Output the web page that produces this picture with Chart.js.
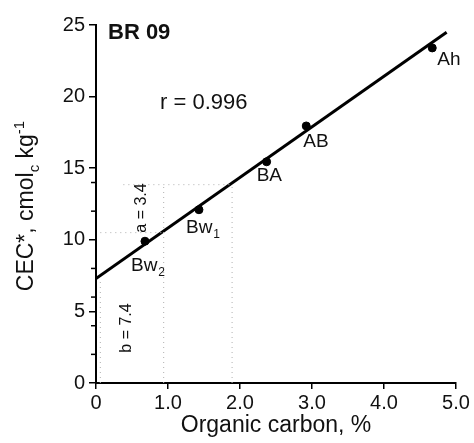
<!DOCTYPE html>
<html>
<head>
<meta charset="utf-8">
<script src="https://cdn.jsdelivr.net/npm/chart.js@4"></script>
<style>
html, body { margin: 0; padding: 0; background: #fff; }
#chart { display: block; }
</style>
</head>
<body>
<canvas id="chart" width="474" height="443"></canvas>
<script>
// horizons of profile BR 09
const horizons = ['Bw2', 'Bw1', 'BA', 'AB', 'Ah'];
const organicCarbon = [0.68, 1.43, 2.37, 2.92, 4.67];
const cecValues = [9.9, 12.1, 15.45, 17.95, 23.4];

// regression line as drawn
const fitLineX = [0, 4.87];
const fitLineY = [7.3, 24.5];

// dotted helper lines (slope / intercept construction)
const guideX = [[0.06, 0.06], [0.94, 0.94], [1.89, 1.89], [0.38, 1.89], [0.06, 0.94]];
const guideY = [[0, 7.3], [0, 13.85], [0, 13.85], [13.85, 13.85], [10.5, 10.5]];

const xTicks = [0, 1, 2, 3, 4, 5];
const yTicks = [0, 5, 10, 15, 20, 25];
const yMinorTicks = [2, 4, 6, 8, 12, 14];

const FONT = "'Liberation Sans', Arial, Helvetica, sans-serif";
Chart.defaults.font.family = FONT;
Chart.defaults.color = '#111';

// label placement relative to each point: [dx to left edge, dy to middle]
const labelOffsets = {
    Bw2: [-14, 25],
    Bw1: [-13, 18],
    BA: [-10, 14],
    AB: [-3, 15.5],
    Ah: [5, 12]
};

function drawSubLabel(ctx, x, y, text, size) {
    // "Bw2" -> "Bw" + subscript "2"
    const m = text.match(/^(Bw)(\d)$/);
    ctx.font = size + 'px ' + FONT;
    if (!m) {
        ctx.fillText(text, x, y);
        return;
    }
    ctx.fillText(m[1], x, y);
    const w = ctx.measureText(m[1]).width;
    ctx.font = Math.round(size * 0.62) + 'px ' + FONT;
    ctx.fillText(m[2], x + w + 1, y + size * 0.35);
}

const extrasPlugin = {
    id: 'extras',
    afterDraw(chart) {
        const ctx = chart.ctx;
        const xs = chart.scales.x;
        const ys = chart.scales.y;
        const area = chart.chartArea;
        ctx.save();
        ctx.fillStyle = '#111';
        ctx.strokeStyle = '#000';

        // minor ticks on y axis
        ctx.lineWidth = 1.5;
        yMinorTicks.forEach(v => {
            const py = ys.getPixelForValue(v);
            ctx.beginPath();
            ctx.moveTo(area.left - 5, py);
            ctx.lineTo(area.left, py);
            ctx.stroke();
        });

        // point labels
        ctx.textAlign = 'left';
        ctx.textBaseline = 'middle';
        horizons.forEach((h, i) => {
            const px = xs.getPixelForValue(organicCarbon[i]);
            const py = ys.getPixelForValue(cecValues[i]);
            const off = labelOffsets[h];
            drawSubLabel(ctx, px + off[0], py + off[1], h, 19);
        });

        // panel title and correlation
        ctx.font = 'bold 22px ' + FONT;
        ctx.fillText('BR 09', area.left + 12, area.top + 8);
        ctx.font = '22px ' + FONT;
        ctx.fillText('r = 0.996', area.left + 64, area.top + 78);

        // rotated a / b annotations
        ctx.font = '16px ' + FONT;
        ctx.textAlign = 'center';
        ctx.save();
        ctx.translate(142, 208);
        ctx.rotate(-Math.PI / 2);
        ctx.fillText('a = 3.4', 0, 0);
        ctx.restore();
        ctx.save();
        ctx.translate(127, 328);
        ctx.rotate(-Math.PI / 2);
        ctx.fillText('b = 7.4', 0, 0);
        ctx.restore();

        // x axis title
        ctx.textAlign = 'center';
        ctx.textBaseline = 'alphabetic';
        ctx.font = '23px ' + FONT;
        ctx.fillText('Organic carbon, %', (area.left + area.right) / 2, 432);

        // y axis title with subscript and superscript
        const big = 23, small = 15;
        const parts = [
            ['CEC*, cmol', big, 0],
            ['c', small, 6],
            [' kg', big, 0],
            ['-1', small, -9]
        ];
        let total = 0;
        parts.forEach(p => {
            ctx.font = p[1] + 'px ' + FONT;
            total += ctx.measureText(p[0]).width;
        });
        ctx.save();
        ctx.translate(33, 206);
        ctx.rotate(-Math.PI / 2);
        ctx.textAlign = 'left';
        let cx = -total / 2;
        parts.forEach(p => {
            ctx.font = p[1] + 'px ' + FONT;
            ctx.fillText(p[0], cx, p[2]);
            cx += ctx.measureText(p[0]).width;
        });
        ctx.restore();

        ctx.restore();
    }
};

const guideSets = guideX.map((gx, i) => ({
    type: 'line',
    data: gx.map((x, j) => ({ x: x, y: guideY[i][j] })),
    borderColor: '#b0b0b0',
    borderWidth: 1,
    borderDash: [1, 4],
    pointRadius: 0,
    fill: false
}));

new Chart(document.getElementById('chart'), {
    type: 'scatter',
    data: {
        datasets: [
            ...guideSets,
            {
                type: 'line',
                data: fitLineX.map((x, i) => ({ x: x, y: fitLineY[i] })),
                borderColor: '#000',
                borderWidth: 3,
                pointRadius: 0,
                fill: false
            },
            {
                data: organicCarbon.map((x, i) => ({ x: x, y: cecValues[i] })),
                backgroundColor: '#000',
                borderColor: '#000',
                pointRadius: 4,
                pointStyle: 'circle'
            }
        ]
    },
    options: {
        responsive: false,
        animation: false,
        layout: { padding: { top: 25, right: 18, left: 0, bottom: 0 } },
        plugins: { legend: { display: false }, tooltip: { enabled: false } },
        scales: {
            x: {
                type: 'linear',
                min: 0,
                max: 5,
                afterBuildTicks: s => { s.ticks = xTicks.map(v => ({ value: v })); },
                afterFit: s => { s.height = 60; },
                ticks: {
                    font: { size: 20 },
                    color: '#111',
                    padding: 2,
                    maxRotation: 0,
                    callback: v => v === 0 ? '0' : v.toFixed(1)
                },
                grid: { drawOnChartArea: false, drawTicks: true, tickLength: 6, color: '#000', lineWidth: 1.5 },
                border: { display: true, color: '#000', width: 2 }
            },
            y: {
                type: 'linear',
                min: 0,
                max: 25,
                afterBuildTicks: s => { s.ticks = yTicks.map(v => ({ value: v })); },
                afterFit: s => { s.width = 96; },
                ticks: { font: { size: 20 }, color: '#111', padding: 4 },
                grid: { drawOnChartArea: false, drawTicks: true, tickLength: 7, color: '#000', lineWidth: 1.5 },
                border: { display: true, color: '#000', width: 2 }
            }
        }
    },
    plugins: [extrasPlugin]
});
</script>
</body>
</html>
